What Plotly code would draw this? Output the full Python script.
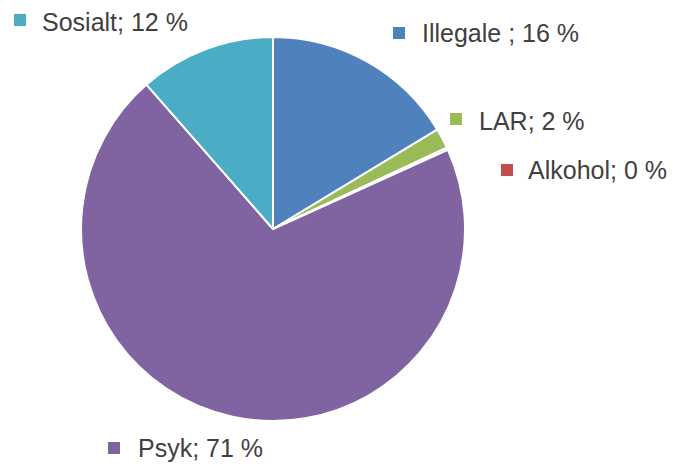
import plotly.graph_objects as go

# ---- data ----
categories = ["Illegale ", "LAR", "Alkohol", "Psyk", "Sosialt"]
values = [16.4, 1.7, 0.2, 70.6, 11.5]
percent_labels = ["16 %", "2 %", "0 %", "71 %", "12 %"]
colors = ["#4F81BD", "#9BBB59", "#C0504D", "#8064A2", "#4BACC6"]

W, H = 681, 468

def px_x(x):
    return x / W

def px_y(y):
    return 1 - y / H

# pie geometry (pixels)
cx, cy, r = 273, 229, 192

fig = go.Figure(go.Pie(
    labels=categories,
    values=values,
    sort=False,
    direction="clockwise",
    rotation=0,
    marker=dict(colors=colors, line=dict(color="white", width=2)),
    textinfo="none",
    hoverinfo="label+percent",
    showlegend=False,
    domain=dict(x=[px_x(cx - r), px_x(cx + r)], y=[px_y(cy + r), px_y(cy - r)]),
))

# label layout: marker centre (pixels), text left x, text centre y
label_pos = [
    (399, 33, 420, 33),     # Illegale
    (456, 119, 477, 121),   # LAR
    (507, 170, 526, 170),   # Alkohol
    (114, 448, 136, 448),   # Psyk
    (20, 20, 40, 22),       # Sosialt
]
ms = 12
shapes = []
annotations = []
for cat, pct, col, (mx, my, tx, ty) in zip(categories, percent_labels, colors, label_pos):
    shapes.append(dict(type="rect", xref="paper", yref="paper",
                       x0=px_x(mx - ms / 2), x1=px_x(mx + ms / 2),
                       y0=px_y(my + ms / 2), y1=px_y(my - ms / 2),
                       fillcolor=col, line=dict(width=0)))
    annotations.append(dict(xref="paper", yref="paper", x=px_x(tx), y=px_y(ty),
                            xanchor="left", yanchor="middle", showarrow=False,
                            text=f"{cat};&nbsp;{pct}",
                            font=dict(family="Liberation Sans", size=25, color="#404040")))

fig.update_layout(
    width=W, height=H,
    margin=dict(l=0, r=0, t=0, b=0),
    paper_bgcolor="white", plot_bgcolor="white",
    shapes=shapes, annotations=annotations,
)

fig.write_html("out.html")
